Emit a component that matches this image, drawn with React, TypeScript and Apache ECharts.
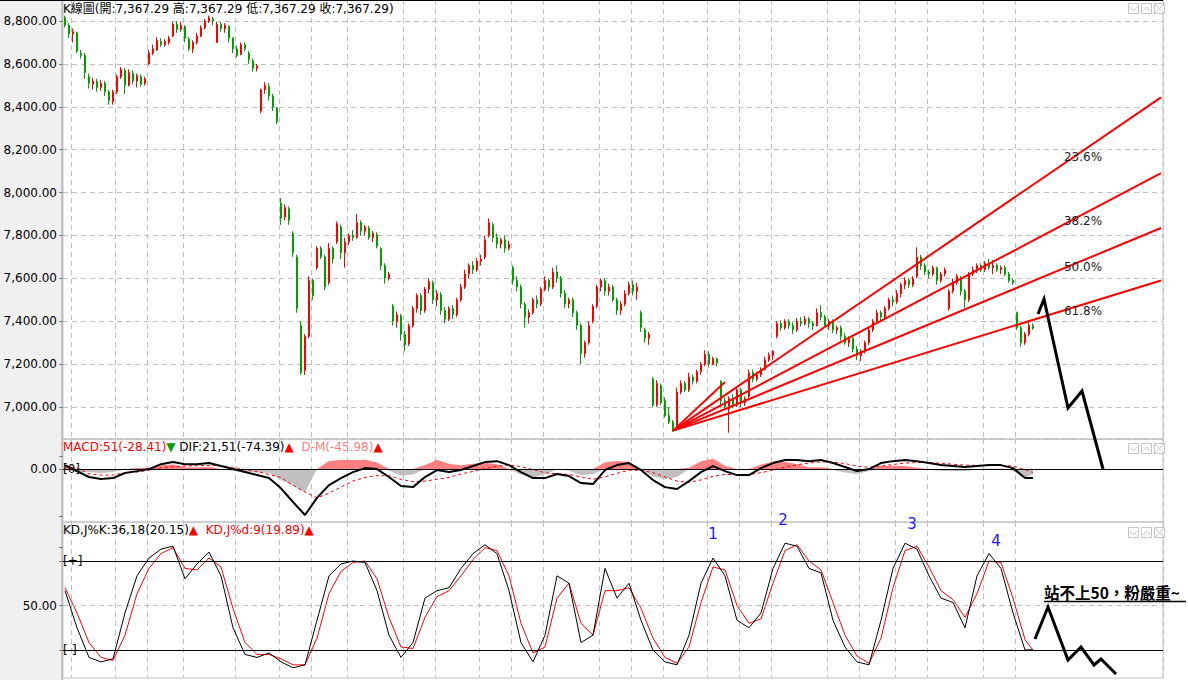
import React, { useEffect, useRef } from "react";
import * as echarts from "echarts";

const FONT = "'DejaVu Sans', 'Noto Sans CJK TC', sans-serif";
const SLOTS = 275;
const categories = Array.from({ length: SLOTS }, (_, i) => `D${i + 1}`);

// [open, close, low, high]
const candles: number[][] = [
  [8815, 8780, 8770, 8825], [8780, 8740, 8720, 8790], [8740, 8750, 8700, 8765], [8745, 8660, 8650, 8750],
  [8650, 8640, 8625, 8665], [8640, 8560, 8530, 8650], [8540, 8510, 8485, 8555], [8505, 8520, 8480, 8535],
  [8520, 8490, 8470, 8530], [8490, 8510, 8475, 8525], [8510, 8470, 8450, 8520], [8470, 8430, 8410, 8480],
  [8425, 8470, 8410, 8480],
  [8470, 8540, 8460, 8550], [8540, 8575, 8530, 8585], [8570, 8500, 8460, 8580], [8500, 8560, 8495, 8575],
  [8555, 8520, 8505, 8570], [8520, 8545, 8490, 8555], [8540, 8505, 8495, 8550], [8510, 8530, 8500, 8540],
  [8600, 8650, 8595, 8665], [8650, 8670, 8640, 8690], [8665, 8710, 8660, 8725], [8705, 8690, 8680, 8720],
  [8690, 8705, 8680, 8715], [8700, 8720, 8690, 8730],
  [8730, 8785, 8725, 8795], [8785, 8760, 8745, 8800], [8760, 8780, 8750, 8795], [8775, 8720, 8700, 8780],
  [8715, 8670, 8660, 8725], [8670, 8700, 8650, 8710], [8700, 8730, 8690, 8745],
  [8730, 8770, 8725, 8780], [8770, 8800, 8760, 8810], [8800, 8815, 8790, 8825], [8810, 8800, 8780, 8820],
  [8700, 8785, 8700, 8795], [8785, 8765, 8750, 8795], [8765, 8780, 8745, 8790], [8775, 8720, 8700, 8780],
  [8720, 8670, 8650, 8725], [8670, 8640, 8630, 8685], [8645, 8690, 8640, 8700], [8690, 8670, 8660, 8700],
  [8650, 8620, 8600, 8660], [8615, 8580, 8565, 8625], [8580, 8590, 8565, 8600],
  [8380, 8480, 8370, 8485], [8480, 8500, 8460, 8515], [8495, 8450, 8430, 8510], [8450, 8400, 8380, 8460],
  [8395, 8330, 8320, 8400],
  [7950, 7880, 7850, 7975], [7885, 7930, 7870, 7945], [7925, 7870, 7850, 7935], [7810, 7720, 7700, 7820],
  [7700, 7460, 7440, 7710], [7380, 7160, 7150, 7400], [7170, 7330, 7150, 7340],
  [7330, 7590, 7320, 7610], [7590, 7520, 7500, 7600], [7650, 7740, 7640, 7750], [7740, 7700, 7690, 7750],
  [7700, 7560, 7545, 7710], [7580, 7740, 7570, 7765], [7740, 7690, 7670, 7750], [7770, 7855, 7760, 7865],
  [7840, 7720, 7690, 7850], [7720, 7770, 7650, 7790], [7770, 7800, 7755, 7810], [7800, 7790, 7775, 7825],
  [7790, 7860, 7785, 7900],
  [7860, 7820, 7800, 7870], [7820, 7840, 7800, 7850], [7835, 7790, 7780, 7845], [7790, 7810, 7770, 7820],
  [7805, 7750, 7740, 7815], [7740, 7660, 7640, 7745], [7660, 7600, 7575, 7670], [7600, 7620, 7590, 7630],
  [7470, 7400, 7380, 7480], [7400, 7430, 7370, 7445], [7425, 7340, 7310, 7435], [7340, 7290, 7260, 7355],
  [7295, 7380, 7285, 7390],
  [7380, 7460, 7370, 7470], [7460, 7520, 7440, 7530], [7520, 7450, 7430, 7530], [7450, 7550, 7440, 7560],
  [7550, 7585, 7530, 7600], [7580, 7500, 7480, 7590], [7500, 7530, 7470, 7545], [7525, 7450, 7430, 7535],
  [7450, 7410, 7390, 7465], [7410, 7460, 7400, 7470], [7460, 7430, 7410, 7475], [7430, 7500, 7420, 7510],
  [7500, 7560, 7490, 7575],
  [7560, 7620, 7550, 7640], [7620, 7660, 7600, 7670], [7660, 7640, 7620, 7680], [7640, 7680, 7630, 7695],
  [7680, 7690, 7660, 7710], [7700, 7780, 7690, 7800],
  [7800, 7860, 7790, 7880], [7850, 7790, 7770, 7860], [7790, 7760, 7740, 7810], [7760, 7780, 7740, 7790],
  [7780, 7740, 7720, 7800], [7740, 7760, 7730, 7775],
  [7650, 7590, 7570, 7660], [7590, 7560, 7540, 7610], [7560, 7480, 7460, 7570], [7480, 7420, 7370, 7490],
  [7420, 7440, 7390, 7455],
  [7440, 7500, 7430, 7510], [7500, 7480, 7460, 7520], [7480, 7550, 7470, 7560], [7550, 7590, 7540, 7610],
  [7590, 7560, 7540, 7600], [7560, 7630, 7550, 7650], [7630, 7600, 7580, 7660], [7600, 7530, 7510, 7610],
  [7530, 7480, 7460, 7545], [7480, 7500, 7460, 7510], [7500, 7440, 7420, 7510], [7440, 7380, 7360, 7450],
  [7380, 7250, 7200, 7390], [7250, 7300, 7230, 7310], [7300, 7380, 7290, 7400],
  [7400, 7470, 7390, 7480], [7470, 7560, 7460, 7570], [7560, 7590, 7540, 7600], [7590, 7540, 7520, 7600],
  [7540, 7560, 7520, 7575], [7560, 7500, 7490, 7570], [7500, 7450, 7430, 7510], [7450, 7480, 7430, 7495],
  [7480, 7530, 7470, 7545], [7530, 7570, 7520, 7585], [7570, 7540, 7520, 7590], [7540, 7560, 7500, 7580],
  [7440, 7370, 7350, 7450], [7360, 7320, 7300, 7370], [7320, 7340, 7290, 7350],
  [7130, 7010, 7000, 7140], [7010, 7110, 7000, 7125], [7100, 7020, 7010, 7110], [7030, 6960, 6950, 7045],
  [6960, 6930, 6920, 7000], [6930, 6900, 6885, 6940],
  [6900, 7070, 6890, 7090], [7070, 7110, 7060, 7125], [7110, 7080, 7070, 7120], [7080, 7140, 7070, 7160],
  [7140, 7120, 7105, 7150], [7120, 7165, 7110, 7175], [7165, 7200, 7150, 7210], [7200, 7245, 7190, 7265],
  [7245, 7200, 7185, 7260], [7200, 7225, 7195, 7235], [7225, 7205, 7190, 7230],
  [7120, 7030, 7000, 7125], [7030, 7000, 6990, 7045], [6990, 7040, 6880, 7050], [7040, 7010, 6995, 7060],
  [7010, 7080, 7000, 7090], [7080, 7020, 7000, 7090], [7020, 7040, 7005, 7050],
  [7050, 7160, 7040, 7175], [7160, 7130, 7115, 7175], [7130, 7150, 7120, 7165], [7150, 7175, 7140, 7185],
  [7175, 7220, 7170, 7235], [7220, 7240, 7210, 7255], [7240, 7260, 7220, 7265],
  [7330, 7390, 7320, 7400], [7390, 7370, 7355, 7405], [7370, 7400, 7360, 7410], [7400, 7380, 7365, 7410],
  [7380, 7360, 7340, 7395], [7360, 7400, 7350, 7415], [7400, 7390, 7375, 7420], [7390, 7410, 7380, 7425],
  [7410, 7390, 7370, 7420], [7390, 7380, 7360, 7400], [7380, 7440, 7375, 7460], [7440, 7420, 7405, 7475],
  [7420, 7380, 7370, 7430], [7380, 7400, 7360, 7410], [7400, 7360, 7345, 7410], [7360, 7370, 7340, 7380],
  [7370, 7330, 7310, 7380], [7330, 7300, 7290, 7345], [7300, 7320, 7280, 7330], [7320, 7270, 7255, 7330],
  [7270, 7240, 7220, 7285], [7240, 7260, 7215, 7270], [7260, 7300, 7250, 7310], [7300, 7360, 7290, 7370],
  [7360, 7400, 7350, 7410], [7400, 7440, 7390, 7455], [7440, 7420, 7400, 7450], [7420, 7460, 7410, 7470],
  [7460, 7500, 7450, 7510], [7500, 7490, 7470, 7520], [7490, 7530, 7480, 7545], [7530, 7570, 7510, 7580],
  [7570, 7590, 7550, 7605], [7590, 7570, 7555, 7600], [7570, 7600, 7560, 7610],
  [7610, 7700, 7600, 7745], [7700, 7660, 7640, 7710], [7660, 7630, 7615, 7670], [7630, 7620, 7600, 7640],
  [7620, 7650, 7610, 7660], [7650, 7590, 7570, 7655], [7590, 7620, 7580, 7630], [7620, 7640, 7610, 7650],
  [7460, 7540, 7450, 7550], [7540, 7580, 7530, 7600], [7580, 7610, 7570, 7620], [7600, 7540, 7520, 7610],
  [7540, 7500, 7460, 7550], [7500, 7620, 7490, 7630],
  [7620, 7640, 7610, 7655], [7640, 7660, 7625, 7670], [7660, 7640, 7630, 7670], [7640, 7670, 7630, 7680],
  [7670, 7650, 7640, 7690], [7650, 7660, 7620, 7685], [7660, 7640, 7630, 7670], [7640, 7650, 7620, 7660],
  [7650, 7620, 7610, 7660], [7620, 7590, 7580, 7630], [7590, 7580, 7570, 7600],
  [7440, 7370, 7360, 7445], [7370, 7300, 7280, 7380], [7300, 7340, 7290, 7350], [7340, 7380, 7330, 7400],
  [7380, 7367, 7360, 7390],
];

// category slots where a dashed vertical grid line starts
const gridSlots = [2, 13, 21, 30, 43, 54, 62, 71, 85, 93, 104, 112, 120, 134, 142, 150, 161, 169, 177, 191, 199, 208, 216, 230, 238];

// indicator samples (every third bar, plus the last bar)
const sampleIdx = Array.from({ length: 81 }, (_, k) => k * 3).concat([242]);
const kdK = [60, 35, 15, 12, 14, 45, 70, 82, 88, 90, 68, 78, 86, 70, 35, 17, 15, 18, 12, 8, 10, 40, 70, 78, 80, 79, 60, 30, 15, 25, 55, 60, 62, 75, 85, 91, 85, 60, 25, 12, 30, 70, 65, 25, 30, 75, 55, 65, 40, 20, 12, 10, 30, 65, 82, 70, 40, 35, 45, 75, 92, 90, 75, 72, 40, 22, 12, 10, 40, 75, 92, 88, 70, 55, 52, 35, 70, 85, 75, 45, 20, 20.15];
const kdD = [62, 45, 25, 15, 13, 30, 58, 75, 85, 89, 75, 74, 82, 76, 48, 25, 17, 17, 14, 10, 10, 28, 58, 73, 79, 80, 68, 42, 22, 21, 42, 56, 60, 70, 81, 89, 87, 70, 38, 18, 22, 55, 65, 38, 30, 60, 60, 62, 48, 28, 15, 11, 22, 52, 76, 74, 50, 38, 41, 65, 87, 91, 80, 74, 52, 30, 16, 11, 28, 62, 87, 90, 76, 60, 54, 42, 58, 80, 79, 55, 27, 19.89];
const macdDif = [33, -17, -66, -83, -75, -33, -17, 0, 41, 58, 41, 41, 50, 25, 0, -25, -50, -75, -160, -274, -382, -240, -133, -75, -25, 8, 0, -66, -141, -150, -66, -8, -25, -8, 25, 58, 66, 33, -25, -75, -75, -41, -58, -116, -125, -8, 33, 50, -8, -91, -150, -166, -100, -25, 25, -17, -50, -50, 8, 50, 75, 75, 66, 75, 50, 17, -17, 0, 50, 66, 75, 66, 50, 33, 25, 17, 25, 33, 33, 8, -75, -74.39];
const macdDea = [17, 10, -40, -50, -50, -30, -25, -10, 10, 20, 25, 28, 30, 28, 15, -5, -20, -45, -70, -135, -190, -240, -200, -150, -100, -70, -55, -55, -85, -105, -100, -85, -70, -40, -20, 5, 25, 35, 20, -5, -30, -40, -45, -65, -85, -65, -35, -10, -10, -30, -65, -100, -110, -90, -60, -45, -45, -45, -30, -10, 15, 35, 50, 60, 58, 45, 25, 15, 25, 38, 50, 55, 54, 48, 40, 33, 30, 30, 30, 25, -5, -28.41];

// Fibonacci fan: origin (bar, price) and end points
const fanOrigin = [152, 6890];
const fanEnds = [[274, 8444], [274, 8091], [274, 7835], [274, 7590], [165, 7117]];
const fanLabels = ["23.6%", "38.2%", "50.0%", "61.8%"];

const GRID_COLOR = "#c0c0c0";

function makeXAxis(gridIndex: number) {
  const set = new Set(gridSlots);
  return {
    type: "category",
    gridIndex,
    data: categories,
    boundaryGap: true,
    axisLine: { show: false },
    axisTick: { show: false },
    axisLabel: { show: false },
    splitLine: {
      show: true,
      interval: (idx: number) => set.has(idx),
      lineStyle: { color: GRID_COLOR, type: [5, 4], width: 1 },
    },
  };
}

function icons(y: number) {
  const c = "#c4c4c4";
  const els: any[] = [];
  [1128, 1141, 1154].forEach((bx) =>
    els.push({ type: "rect", shape: { x: bx + 0.5, y: y + 0.5, width: 10, height: 10 }, style: { fill: "#fff", stroke: c, lineWidth: 1 }, z: 50 })
  );
  els.push({ type: "polyline", shape: { points: [[1130, y + 4], [1133.5, y + 8], [1137, y + 4]] }, style: { stroke: c, fill: null, lineWidth: 1 }, z: 51 });
  els.push({ type: "polyline", shape: { points: [[1143, y + 8], [1146.5, y + 4], [1150, y + 8]] }, style: { stroke: c, fill: null, lineWidth: 1 }, z: 51 });
  els.push({ type: "line", shape: { x1: 1155, y1: y + 1, x2: 1164, y2: y + 10 }, style: { stroke: c, lineWidth: 1 }, z: 51 });
  els.push({ type: "line", shape: { x1: 1164, y1: y + 1, x2: 1155, y2: y + 10 }, style: { stroke: c, lineWidth: 1 }, z: 51 });
  return els;
}

function txt(x: number, y: number, text: string, fill = "#000", fontSize = 12, extra: any = {}) {
  return {
    type: "text",
    x,
    y,
    z: 60,
    style: { text, fill, fontSize, fontFamily: FONT, verticalAlign: "middle", align: "left", ...extra },
  };
}

function buildOption() {
  const hist = sampleIdx.map((x, k) => [x, macdDif[k] - macdDea[k]]);
  const histPos = hist.map(([x, v]) => [x, Math.max(v, 0)]);
  const histNeg = hist.map(([x, v]) => [x, Math.min(v, 0)]);

  const fanSeries = fanEnds.map((end) => ({
    type: "line",
    xAxisIndex: 0,
    yAxisIndex: 0,
    data: [fanOrigin, end],
    symbol: "none",
    silent: true,
    z: 5,
    lineStyle: { color: "#ff0000", width: 2 },
  }));

  const fanLabelPos = [157, 221, 267, 311];

  const graphic: any[] = [
    { type: "line", shape: { x1: 0, y1: 0.5, x2: 1163, y2: 0.5 }, style: { stroke: "#000", lineWidth: 1 }, z: 40 },
    txt(63, 9, "K線圖(開:7,367.29 高:7,367.29 低:7,367.29 收:7,367.29)"),
    {
      type: "text",
      x: 63,
      y: 447,
      z: 60,
      style: {
        text: "{r|MACD:51(-28.41)}{g|▼} {k|DIF:21,51(-74.39)}{r|▲}  {p|D-M(-45.98)}{r|▲}",
        fontSize: 12,
        fontFamily: FONT,
        verticalAlign: "middle",
        rich: {
          r: { fill: "#ff0000", fontSize: 12, fontFamily: FONT },
          g: { fill: "#00a000", fontSize: 12, fontFamily: FONT },
          k: { fill: "#000000", fontSize: 12, fontFamily: FONT },
          p: { fill: "#ff8080", fontSize: 12, fontFamily: FONT },
        },
      },
    },
    {
      type: "text",
      x: 63,
      y: 530,
      z: 60,
      style: {
        text: "{k|KD,J%K:36,18(20.15)}{r|▲}  {r|KD,J%d:9(19.89)}{r|▲}",
        fontSize: 12,
        fontFamily: FONT,
        verticalAlign: "middle",
        rich: {
          r: { fill: "#ff0000", fontSize: 12, fontFamily: FONT },
          k: { fill: "#000000", fontSize: 12, fontFamily: FONT },
        },
      },
    },
    txt(63, 469, "[0]"),
    txt(63, 561, "[+]"),
    txt(63, 650, "[-]"),
    ...fanLabels.map((t, i) => txt(1083, fanLabelPos[i], t, "#222", 12, { align: "center" })),
    txt(713, 534, "1", "#1a1aff", 15, { align: "center" }),
    txt(783, 520, "2", "#1a1aff", 15, { align: "center" }),
    txt(912, 524, "3", "#1a1aff", 15, { align: "center" }),
    txt(996, 541, "4", "#1a1aff", 15, { align: "center" }),
    {
      type: "polyline",
      z: 70,
      shape: { points: [[1038, 314], [1044, 299], [1068, 408], [1082, 391], [1103, 469]] },
      style: { stroke: "#000", lineWidth: 3, fill: null, lineJoin: "miter" },
    },
    {
      type: "polyline",
      z: 70,
      shape: { points: [[1035, 639], [1048, 607], [1068, 660], [1081, 647], [1094, 665], [1101, 659], [1116, 674]] },
      style: { stroke: "#000", lineWidth: 3, fill: null, lineJoin: "miter" },
    },
    txt(1044, 592, "站不上50，粉嚴重~", "#000", 15.5, { fontWeight: "bold", fontFamily: "'Noto Sans CJK TC', 'DejaVu Serif', serif" }),
    { type: "line", shape: { x1: 1044, y1: 601.5, x2: 1186, y2: 601.5 }, style: { stroke: "#000", lineWidth: 1.5 }, z: 60 },
    ...icons(3),
    ...icons(443),
    ...icons(527),
  ];

  return {
    animation: false,
    backgroundColor: "transparent",
    textStyle: { fontFamily: FONT },
    grid: [
      { left: 63, right: 25, top: 0, height: 439, show: true, borderColor: GRID_COLOR, borderWidth: 1 },
      { left: 63, right: 25, top: 439, height: 83, show: true, borderColor: GRID_COLOR, borderWidth: 1 },
      { left: 63, right: 25, top: 522, height: 156, show: true, borderColor: GRID_COLOR, borderWidth: 1 },
    ],
    xAxis: [makeXAxis(0), makeXAxis(1), makeXAxis(2)],
    yAxis: [
      {
        type: "value",
        gridIndex: 0,
        min: 6851,
        max: 8898,
        splitNumber: 10,
        axisLine: { show: false },
        axisTick: { show: true, length: 4, lineStyle: { color: "#808080" } },
        axisLabel: {
          showMinLabel: false,
          showMaxLabel: false,
          margin: 6,
          color: "#000",
          fontSize: 12,
          fontFamily: FONT,
          formatter: (v: number) => v.toLocaleString("en-US", { minimumFractionDigits: 2, maximumFractionDigits: 2 }),
        },
        splitLine: { show: true, lineStyle: { color: GRID_COLOR, type: [5, 4], width: 1 } },
      },
      {
        type: "value",
        gridIndex: 1,
        min: -440,
        max: 250,
        axisLine: { show: false },
        axisTick: { show: true, length: 4, lineStyle: { color: "#808080" }, customValues: [108, 0, -390] },
        axisLabel: {
          customValues: [0],
          margin: 6,
          color: "#000",
          fontSize: 12,
          fontFamily: FONT,
          formatter: (v: number) => (v === 0 ? "0.00" : ""),
        },
        splitLine: { show: false },
      },
      {
        type: "value",
        gridIndex: 2,
        min: 1.12,
        max: 106.3,
        splitNumber: 10,
        axisLine: { show: false },
        axisTick: { show: true, length: 4, lineStyle: { color: "#808080" }, customValues: [89, 80, 50, 20] },
        axisLabel: {
          customValues: [50],
          margin: 6,
          color: "#000",
          fontSize: 12,
          fontFamily: FONT,
          formatter: (v: number) => (v === 50 ? "50.00" : ""),
        },
        splitLine: { show: false },
      },
    ],
    series: [
      {
        type: "candlestick",
        xAxisIndex: 0,
        yAxisIndex: 0,
        data: candles,
        barWidth: 2,
        z: 3,
        itemStyle: { color: "#ff0000", color0: "#00a000", borderColor: "#ff0000", borderColor0: "#00a000", borderWidth: 1 },
      },
      ...fanSeries,
      {
        type: "line",
        xAxisIndex: 1,
        yAxisIndex: 1,
        data: histPos,
        symbol: "none",
        silent: true,
        lineStyle: { width: 0, color: "#ff8080" },
        areaStyle: { color: "#ff8080", opacity: 1 },
        z: 2,
      },
      {
        type: "line",
        xAxisIndex: 1,
        yAxisIndex: 1,
        data: histNeg,
        symbol: "none",
        silent: true,
        lineStyle: { width: 0, color: "#c0c0c0" },
        areaStyle: { color: "#c0c0c0", opacity: 1 },
        z: 2,
      },
      {
        type: "line",
        xAxisIndex: 1,
        yAxisIndex: 1,
        data: sampleIdx.map((x, k) => [x, macdDea[k]]),
        symbol: "none",
        silent: true,
        lineStyle: { width: 1, color: "#ff0000", type: [3, 3] },
        z: 4,
      },
      {
        type: "line",
        xAxisIndex: 1,
        yAxisIndex: 1,
        data: sampleIdx.map((x, k) => [x, macdDif[k]]),
        symbol: "none",
        silent: true,
        lineStyle: { width: 2, color: "#000" },
        z: 5,
        markLine: {
          silent: true,
          symbol: ["none", "none"],
          label: { show: false },
          lineStyle: { color: "#000", width: 1, type: "solid" },
          data: [{ yAxis: 0 }],
        },
      },
      {
        type: "line",
        xAxisIndex: 2,
        yAxisIndex: 2,
        data: sampleIdx.map((x, k) => [x, kdD[k]]),
        symbol: "none",
        silent: true,
        lineStyle: { width: 1, color: "#ff0000" },
        z: 4,
        markLine: {
          silent: true,
          symbol: ["none", "none"],
          label: { show: false },
          data: [
            { yAxis: 80, lineStyle: { color: "#000", width: 1, type: "solid" } },
            { yAxis: 20, lineStyle: { color: "#000", width: 1, type: "solid" } },
            { yAxis: 50, lineStyle: { color: GRID_COLOR, width: 1, type: [5, 4] } },
          ],
        },
      },
      {
        type: "line",
        xAxisIndex: 2,
        yAxisIndex: 2,
        data: sampleIdx.map((x, k) => [x, kdK[k]]),
        symbol: "none",
        silent: true,
        lineStyle: { width: 1, color: "#000" },
        z: 5,
      },
    ],
    graphic,
  };
}

export default function App() {
  const ref = useRef<HTMLDivElement>(null);
  useEffect(() => {
    if (!ref.current) return;
    const chart = echarts.init(ref.current, null, { renderer: "svg" });
    chart.setOption(buildOption() as any);
    return () => chart.dispose();
  }, []);
  return (
    <div
      ref={ref}
      style={{
        position: "fixed",
        left: 0,
        top: 0,
        width: 1188,
        height: 680,
        background: "linear-gradient(to right, #f0f0f0 0px, #f0f0f0 61px, #c4c4c4 61px, #c4c4c4 63px, #ffffff 63px)",
      }}
    />
  );
}
